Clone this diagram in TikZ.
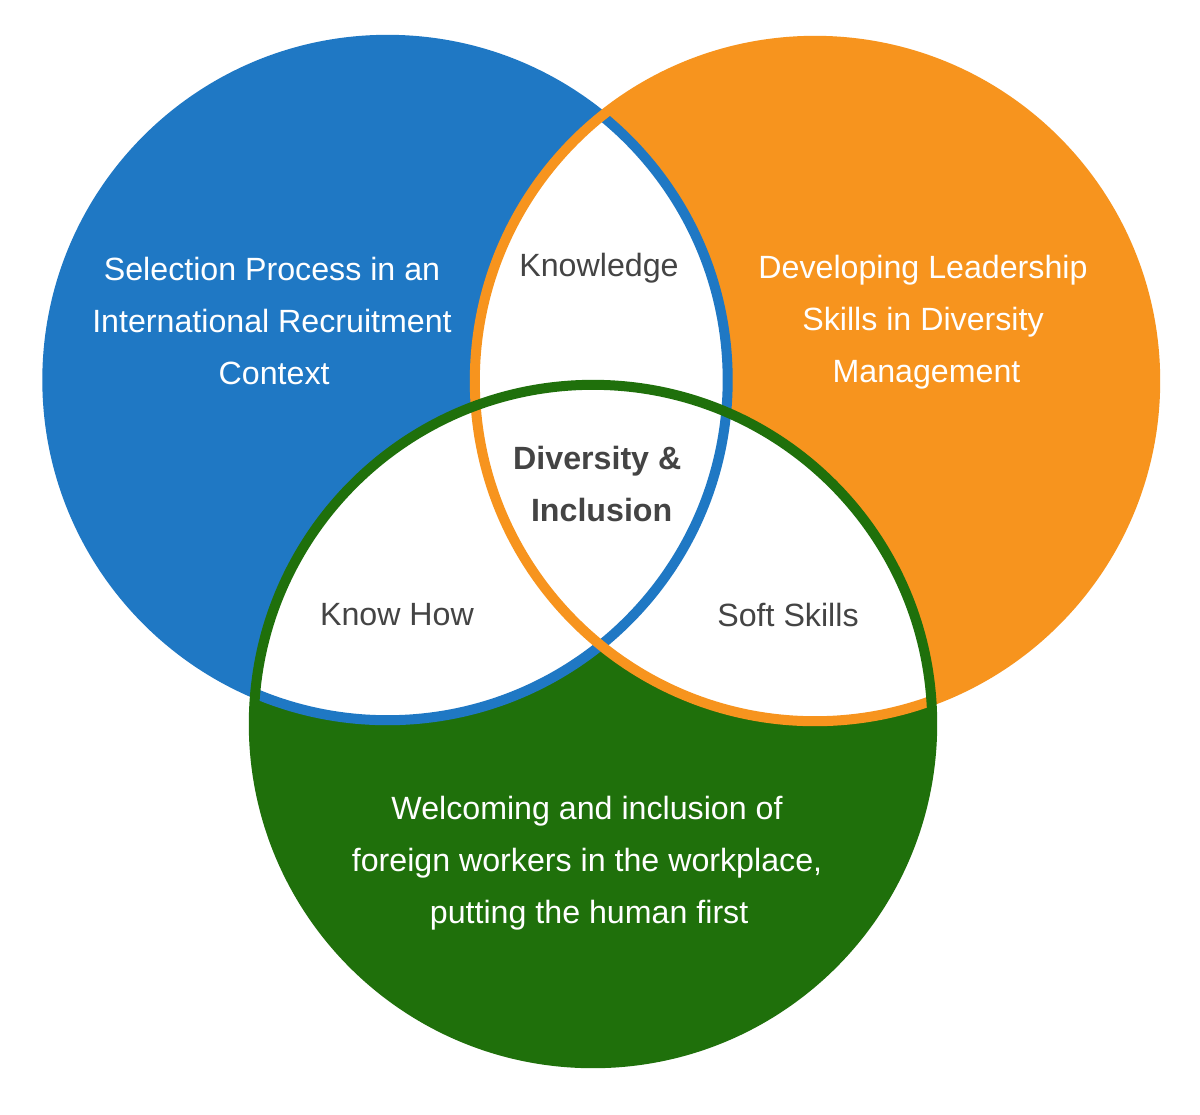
\documentclass[tikz,border=0pt]{standalone}
\usepackage{fontspec}
\setmainfont{Liberation Sans}
\definecolor{cblue}{RGB}{31,120,196}
\definecolor{corange}{RGB}{247,148,30}
\definecolor{cgreen}{RGB}{31,112,11}
\definecolor{ctext}{RGB}{68,68,68}
\tikzset{
  ring/.style={line width=0.1cm},
  wtext/.style={text=white, align=center, font=\fontsize{9.15}{14.7}\selectfont, inner sep=0pt},
  gtext/.style={text=ctext, align=center, font=\fontsize{9.15}{14.7}\selectfont, inner sep=0pt},
}
\begin{document}
\begin{tikzpicture}[x=0.01cm, y=-0.01cm]
\path[use as bounding box, fill=white] (0,0) rectangle (1200,1114);
\coordinate (B) at (387.5,380);
\coordinate (O) at (815,381);
\coordinate (G) at (593,724);
% fills
\fill[cblue] (B) circle[radius=3.4cm];
\fill[corange] (O) circle[radius=3.4cm];
\fill[cgreen] (G) circle[radius=3.39cm];
% white intersections
\begin{scope}
  \clip (B) circle[radius=3.4cm];
  \fill[white] (O) circle[radius=3.4cm];
  \fill[white] (G) circle[radius=3.39cm];
\end{scope}
\begin{scope}
  \clip (O) circle[radius=3.4cm];
  \fill[white] (G) circle[radius=3.39cm];
\end{scope}
% outlines
\draw[ring, cblue] (B) circle[radius=3.4cm];
\draw[ring, corange] (O) circle[radius=3.4cm];
\draw[ring, cgreen] (G) circle[radius=3.39cm];
% texts
\node[wtext] (tb) at (272,321) {Selection Process in an\\International Recruitment\\\hspace{1.2pt}Context};
\node[wtext] (to) at (923,322) {Developing Leadership\\Skills in Diversity\\\hspace{2pt}Management};
\node[wtext] (tg) at (587,863) {Welcoming and inclusion of\\foreign workers in the workplace,\\\hspace{1.2pt}putting the human first};
\node[gtext] (tk) at (599,268) {Knowledge};
\node[gtext, font=\fontsize{9.15}{14.7}\selectfont\bfseries] (td) at (599,484) {\hspace{-1pt}Diversity \&\\\hspace{1.5pt}Inclusion};
\node[gtext] (th) at (397,615) {Know How};
\node[gtext] (ts) at (788,615) {Soft Skills};
\end{tikzpicture}
\end{document}
